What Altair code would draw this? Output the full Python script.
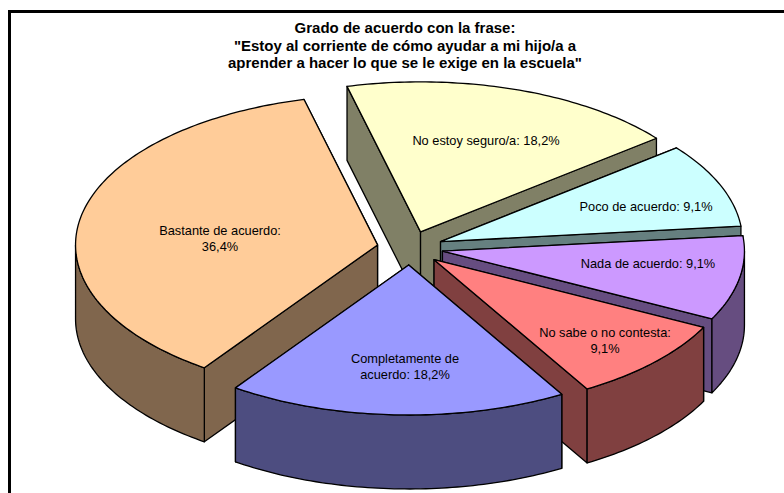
import math
import altair as alt

# Survey answers, in pie order (clockwise)
categories = ["Bastante de acuerdo", "No estoy seguro/a", "Poco de acuerdo",
              "Nada de acuerdo", "No sabe o no contesta", "Completamente de acuerdo"]
values = [36.4, 18.2, 9.1, 9.1, 9.1, 18.2]
top_colors = ["#FFCC99", "#FFFFCC", "#CCFFFF", "#CC99FF", "#FF8080", "#9999FF"]
side_colors = ["#80664D", "#808066", "#668080", "#664D80", "#804040", "#4D4D80"]
label_text = ["Bastante de acuerdo:\n36,4%", "No estoy seguro/a: 18,2%", "Poco de acuerdo: 9,1%",
              "Nada de acuerdo: 9,1%", "No sabe o no contesta:\n9,1%", "Completamente de\nacuerdo: 18,2%"]
label_x = [220, 486, 646, 648, 605, 405]
label_y = [231, 141, 207, 264, 333, 359]
title_lines = ["Grado de acuerdo con la frase:",
               "\"Estoy al corriente de cómo ayudar a mi hijo/a a",
               "aprender a hacer lo que se le exige en la escuela\""]

# Tilted pie: ellipse radii, centre, explosion offset, extrusion depth, first slice angle
CX, CY = 410, 248
RX, RY = 302, 150
EX, EY = 33, 17
DEPTH = 74
START = 215.0


def point(ax, ay, deg, drop=0):
    t = math.radians(deg)
    return [ax + RX * math.sin(t), ay - RY * math.cos(t) + drop]


def arc(ax, ay, a0, a1, drop=0):
    n = max(2, int(abs(a1 - a0)) + 1)
    return [point(ax, ay, a0 + (a1 - a0) * i / (n - 1), drop) for i in range(n)]


def feature(ring, fill, slice_name):
    return {"type": "Feature",
            "geometry": {"type": "Polygon", "coordinates": [ring + [ring[0]]]},
            "properties": {"fill": fill, "slice": slice_name}}


total = sum(values)
slices = []
angle = START
for name, v, top, side in zip(categories, values, top_colors, side_colors):
    span = 360 * v / total
    slices.append((name, angle, angle + span, top, side))
    angle += span

# Paint from the back of the pie towards the viewer
slices.sort(key=lambda s: -math.cos(math.radians((s[1] + s[2]) / 2)))

features = []
for name, a0, a1, top, side in slices:
    mid = math.radians((a0 + a1) / 2)
    ax, ay = CX + EX * math.sin(mid), CY - EY * math.cos(mid)
    # Radial walls: the one lying higher on screen goes first
    walls = sorted([a0, a1], key=lambda a: -math.cos(math.radians(a)))
    for a in walls:
        p = point(ax, ay, a)
        features.append(feature([[ax, ay], p, [p[0], p[1] + DEPTH], [ax, ay + DEPTH]], side, name))
    # Rim: only the part that faces the viewer (lower half of the ellipse, in either turn)
    for turn in (0, 360):
        lo, hi = max(a0, 90 + turn), min(a1, 270 + turn)
        if lo < hi:
            features.append(feature(arc(ax, ay, lo, hi) + arc(ax, ay, hi, lo, DEPTH), side, name))
    features.append(feature([[ax, ay]] + arc(ax, ay, a0, a1), top, name))

projection = alt.Projection(type="identity", scale=1, translate=[0, 0])

pie = alt.Chart(alt.Data(values=features)).mark_geoshape(
    stroke="#000000", strokeWidth=1.3, strokeJoin="round"
).encode(fill=alt.Fill("properties.fill:N", scale=None, legend=None))

labels = alt.Chart(alt.Data(values=[
    {"text": t, "x": x, "y": y} for t, x, y in zip(label_text, label_x, label_y)
])).mark_text(
    font="Liberation Sans", fontSize=12.8, color="#000000", lineBreak="\n", lineHeight=16,
    align="center", baseline="middle"
).encode(longitude="x:Q", latitude="y:Q", text="text:N")

frame_left = alt.Chart(alt.Data(values=[{"k": 0}])).mark_rule(color="#000000", strokeWidth=3).encode(
    x=alt.value(9.5), y=alt.value(10), y2=alt.value(493))
frame_top = alt.Chart(alt.Data(values=[{"k": 0}])).mark_rule(color="#000000", strokeWidth=3).encode(
    x=alt.value(8), x2=alt.value(784), y=alt.value(11.5))

chart = alt.layer(frame_left, frame_top, pie, labels, projection=projection).properties(
    width=784, height=493, padding=0, autosize=alt.AutoSizeParams(type="none"),
    background="#FFFFFF",
    title=alt.TitleParams(text=title_lines, font="Liberation Sans", fontSize=15, fontWeight="bold",
                          color="#000000", anchor="middle", dx=13, dy=75, lineHeight=17.5),
).configure_view(stroke=None)

chart.save("out.html", embed_options={"renderer": "svg", "actions": False})
